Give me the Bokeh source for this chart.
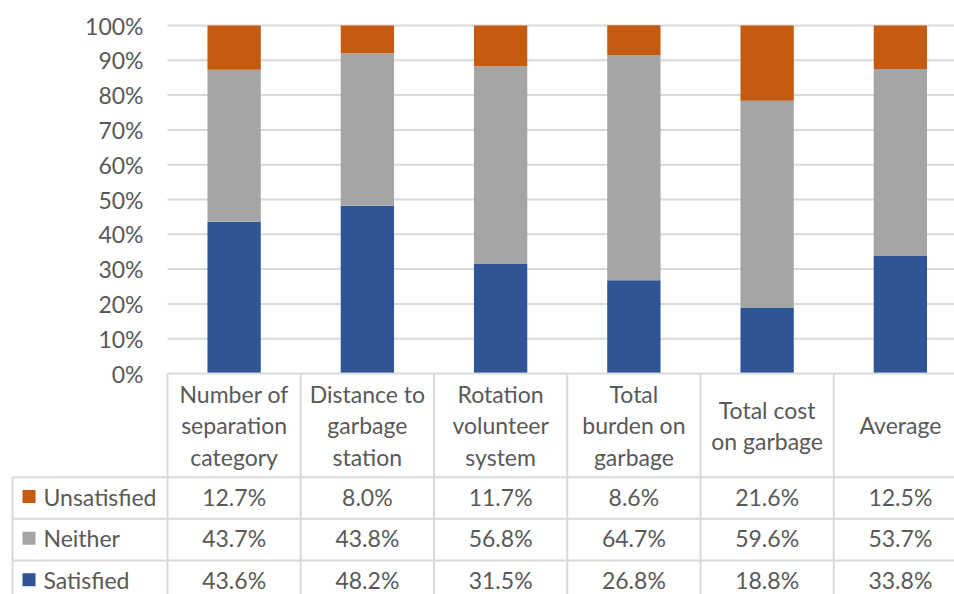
from bokeh.plotting import figure
from bokeh.models import Range1d, ColumnDataSource
from bokeh.core.properties import value
from bokeh.embed import file_html
from bokeh.resources import INLINE

# ---- data ----
categories = ["Number of\nseparation\ncategory", "Distance to\ngarbage\nstation",
              "Rotation\nvolunteer\nsystem", "Total\nburden on\ngarbage",
              "Total cost\non garbage", "Average"]
satisfied = [43.6, 48.2, 31.5, 26.8, 18.8, 33.8]
neither = [43.7, 43.8, 56.8, 64.7, 59.6, 53.7]
unsatisfied = [12.7, 8.0, 11.7, 8.6, 21.6, 12.5]
series_names = ["Unsatisfied", "Neither", "Satisfied"]
y_ticks = [0, 10, 20, 30, 40, 50, 60, 70, 80, 90, 100]

colors = {"Satisfied": "#2F5597", "Neither": "#A5A5A5", "Unsatisfied": "#C55A11"}
TEXT = "#595959"
GRID = "#D9D9D9"
FONT = value("Lato")
FS = "23px"

W, H = 954, 594
X0, COLW = 167.0, 133.25   # pixel of category start, pixel width per category
Y0, YSCALE = 373.0, 348.0  # pixel of 0%, pixels per 100%

def px2x(px):
    return (px - X0) / COLW

def px2y(py):
    return (Y0 - py) / YSCALE * 100.0

p = figure(width=W, height=H, output_backend="svg", toolbar_location=None,
           x_range=Range1d(px2x(0), px2x(W)), y_range=Range1d(px2y(H), px2y(0)),
           x_axis_type=None, y_axis_type=None, min_border=0)
p.outline_line_color = None
p.grid.visible = False
p.background_fill_color = "white"
p.border_fill_color = "white"

n = len(categories)
xs = [i + 0.5 for i in range(n)]

# gridlines
gt = [t for t in y_ticks if t > 0]
p.segment(x0=[0] * len(gt), x1=[px2x(W + 20)] * len(gt), y0=gt, y1=gt,
          line_color=GRID, line_width=2)

# stacked bars
src = ColumnDataSource(dict(x=xs, Satisfied=satisfied, Neither=neither, Unsatisfied=unsatisfied))
p.vbar_stack(["Satisfied", "Neither", "Unsatisfied"], x="x", width=0.4, source=src,
             color=[colors["Satisfied"], colors["Neither"], colors["Unsatisfied"]],
             line_color=None)

# y tick labels
p.text(x=[px2x(143)] * len(y_ticks), y=y_ticks, text=[f"{t}%" for t in y_ticks],
       text_align="right", text_baseline="middle", text_color=TEXT,
       text_font=FONT, text_font_size=FS)

# table lines
row_py = [Y0, 476.7, 518.3, 560.0, 601.7]
# header top line
p.segment(x0=[0], x1=[px2x(W + 20)], y0=[0], y1=[0], line_color=GRID, line_width=2)
hl = row_py[1:]
p.segment(x0=[px2x(12)] * len(hl), x1=[px2x(W + 20)] * len(hl),
          y0=[px2y(v) for v in hl], y1=[px2y(v) for v in hl],
          line_color=GRID, line_width=2)
vx = list(range(n + 1))
p.segment(x0=vx, x1=vx, y0=[0] * len(vx), y1=[px2y(H + 20)] * len(vx),
          line_color=GRID, line_width=2)
p.segment(x0=[px2x(12)], x1=[px2x(12)], y0=[px2y(row_py[1])], y1=[px2y(H + 20)],
          line_color=GRID, line_width=2)

# header labels
p.text(x=xs, y=[px2y((row_py[0] + row_py[1]) / 2)] * n, text=categories,
       text_align="center", text_baseline="middle", text_color=TEXT,
       text_font=FONT, text_font_size=FS, text_line_height=1.13)

# rows
row_vals = {"Unsatisfied": unsatisfied, "Neither": neither, "Satisfied": satisfied}
for r, name in enumerate(series_names):
    cy = px2y((row_py[r + 1] + row_py[r + 2]) / 2 - 1.5)
    p.rect(x=[px2x(28.5)], y=[cy], width=13, height=13, width_units="screen",
           height_units="screen", fill_color=colors[name], line_color=None)
    p.text(x=[px2x(43)], y=[cy], text=[name], text_align="left", text_baseline="middle",
           text_color=TEXT, text_font=FONT, text_font_size=FS)
    p.text(x=xs, y=[cy] * n, text=[f"{v:.1f}%" for v in row_vals[name]],
           text_align="center", text_baseline="middle", text_color=TEXT,
           text_font=FONT, text_font_size=FS)

open("out.html", "w").write(file_html(p, INLINE))
